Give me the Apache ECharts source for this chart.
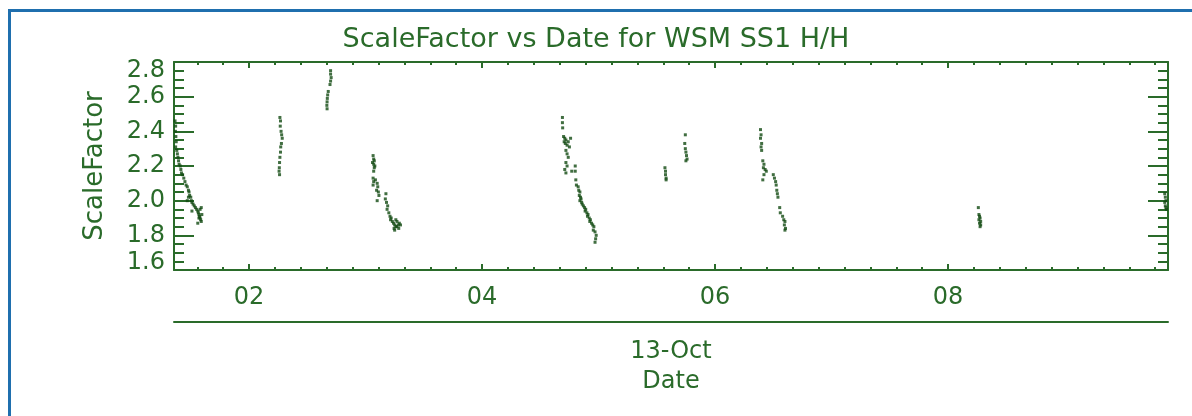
<!DOCTYPE html>
<html><head><meta charset="utf-8">
<script src="https://cdn.jsdelivr.net/npm/echarts@6/dist/echarts.min.js"></script>
<style>
html,body{margin:0;padding:0;background:#fff;}
#chart{position:absolute;left:0;top:0;width:1192px;height:416px;}
#frame{position:absolute;left:8px;top:9px;right:0;bottom:0;border-top:3px solid #1f6fae;border-left:3px solid #1f6fae;pointer-events:none;}
</style></head><body>
<div id="chart"></div><div id="frame"></div>
<script>
// ---- data: [hour of 13-Oct, ScaleFactor] ----
const pass1 = [[1.365,2.46],[1.37,2.43],[1.368,2.40],[1.372,2.37],[1.375,2.34],[1.37,2.31],[1.38,2.29],[1.385,2.27],[1.39,2.25],[1.395,2.23],[1.40,2.21],[1.41,2.20],[1.415,2.18],[1.42,2.16],[1.43,2.15],[1.44,2.13],[1.45,2.11],[1.46,2.09],[1.47,2.08],[1.48,2.06],[1.485,2.05],[1.49,2.03],[1.50,2.02],[1.505,2.00],[1.51,1.99],[1.52,1.98],[1.53,1.97],[1.54,1.96],[1.55,1.95],[1.56,1.94],[1.565,1.93],[1.57,1.92],[1.575,1.91],[1.58,1.90],[1.585,1.89],[1.59,1.88],[1.56,1.87],[1.57,1.90],[1.58,1.95],[1.59,1.96],[1.595,1.92],[1.48,2.02],[1.47,2.00],[1.51,1.94]];
const pass2 = [[2.265,2.48],[2.27,2.46],[2.268,2.43],[2.275,2.40],[2.28,2.38],[2.285,2.36],[2.278,2.33],[2.272,2.31],[2.27,2.28],[2.265,2.25],[2.262,2.22],[2.26,2.19],[2.258,2.17],[2.262,2.15]];
const pass3 = [[2.70,2.75],[2.70,2.73],[2.705,2.71],[2.70,2.69],[2.695,2.67],[2.68,2.63],[2.675,2.61],[2.672,2.59],[2.67,2.57],[2.668,2.55],[2.67,2.53]];
const pass4 = [[3.065,2.26],[3.07,2.24],[3.075,2.23],[3.06,2.22],[3.07,2.21],[3.08,2.20],[3.075,2.19],[3.07,2.17],[3.065,2.13],[3.07,2.11],[3.065,2.09],[3.085,2.12],[3.10,2.10],[3.105,2.08],[3.095,2.06],[3.11,2.05],[3.115,2.03],[3.10,2.00],[3.175,2.04],[3.17,2.01],[3.18,1.99],[3.19,1.97],[3.185,1.95],[3.20,1.93],[3.21,1.91],[3.22,1.90],[3.215,1.89],[3.23,1.88],[3.24,1.87],[3.25,1.86],[3.26,1.85],[3.245,1.84],[3.27,1.85],[3.28,1.86],[3.29,1.87],[3.30,1.86],[3.27,1.88],[3.26,1.89],[3.25,1.83],[3.285,1.84]];
const pass5 = [[4.69,2.48],[4.69,2.45],[4.692,2.42],[4.70,2.37],[4.71,2.36],[4.72,2.35],[4.705,2.34],[4.715,2.33],[4.73,2.32],[4.74,2.34],[4.76,2.36],[4.75,2.31],[4.72,2.29],[4.73,2.27],[4.74,2.25],[4.72,2.22],[4.73,2.20],[4.71,2.18],[4.72,2.16],[4.77,2.17],[4.80,2.20],[4.80,2.17],[4.805,2.12],[4.81,2.09],[4.825,2.08],[4.83,2.06],[4.84,2.05],[4.835,2.03],[4.845,2.02],[4.85,2.01],[4.84,2.00],[4.855,1.99],[4.86,1.98],[4.87,1.97],[4.88,1.96],[4.89,1.95],[4.885,1.94],[4.90,1.93],[4.91,1.92],[4.905,1.91],[4.92,1.90],[4.93,1.89],[4.925,1.88],[4.94,1.87],[4.95,1.86],[4.96,1.85],[4.955,1.83],[4.97,1.82],[4.98,1.80],[4.975,1.78],[4.97,1.76]];
const pass6 = [[5.57,2.19],[5.575,2.17],[5.575,2.15],[5.58,2.13],[5.58,2.12]];
const pass7 = [[5.745,2.38],[5.74,2.33],[5.745,2.30],[5.75,2.28],[5.755,2.26],[5.76,2.24],[5.75,2.23]];
const pass8 = [[6.39,2.41],[6.395,2.38],[6.39,2.36],[6.40,2.33],[6.395,2.31],[6.40,2.29],[6.41,2.23],[6.42,2.21],[6.415,2.19],[6.43,2.18],[6.44,2.17],[6.42,2.15],[6.41,2.12],[6.50,2.15],[6.51,2.13],[6.52,2.11],[6.525,2.09],[6.53,2.06],[6.535,2.04],[6.54,2.02],[6.555,1.96],[6.56,1.93],[6.58,1.91],[6.59,1.89],[6.60,1.88],[6.595,1.86],[6.605,1.84],[6.60,1.83]];
const pass9 = [[8.26,1.96],[8.265,1.92],[8.27,1.91],[8.275,1.90],[8.265,1.89],[8.28,1.88],[8.27,1.87],[8.28,1.86],[8.275,1.85]];
const pass10 = [[9.86,2.04],[9.865,2.02],[9.87,2.00],[9.86,1.99],[9.865,1.97],[9.87,1.96],[9.875,1.95]];

const xMajorHours = [2, 4, 6, 8];
const xMajorLabels = ['02', '04', '06', '08'];
const xMinorHours = [1.556,1.778,2.222,2.444,2.667,2.889,3.111,3.333,3.556,3.778,4.222,4.444,4.667,4.889,5.111,5.333,5.556,5.778,6.222,6.444,6.667,6.889,7.111,7.333,7.556,7.778,8.222,8.444,8.667,8.889,9.111,9.333,9.556,9.778];
const X_MIN = 1.356, X_MAX = 9.888;
const Y_MIN = 1.6, Y_MAX = 2.8, Y_STEP = 0.2;
const dateLabel = '13-Oct';

// ---- styling ----
const GREEN = '#2a6b2a';
const DOT = '#124a12';
const FONT = 'DejaVu Sans';

const allData = [].concat(pass1, pass2, pass3, pass4, pass5, pass6, pass7, pass8, pass9, pass10);

const lineS = {color: GREEN, width: 2};
const xBase = {
  type: 'value', min: X_MIN, max: X_MAX,
  splitLine: {show: false},
  axisLine: {show: true, onZero: false, lineStyle: lineS}
};
const majorTick = {show: true, inside: true, length: 6, customValues: xMajorHours, lineStyle: lineS};
const minorTickX = {show: true, inside: true, length: 3, customValues: xMinorHours, lineStyle: lineS};

const yBase = {
  type: 'value', min: Y_MIN, max: Y_MAX, interval: Y_STEP,
  splitLine: {show: false},
  axisLine: {show: true, onZero: false, lineStyle: lineS},
  axisTick: {show: true, inside: true, length: 20, lineStyle: lineS},
  minorTick: {show: true, splitNumber: 4, length: 10, lineStyle: lineS},
  minorSplitLine: {show: false}
};

function yLabel(v) {
  const s = v.toFixed(1);
  if (Math.abs(v - Y_MAX) < 1e-6) return '{hi|' + s + '}';
  if (Math.abs(v - Y_MIN) < 1e-6) return '{lo|' + s + '}';
  return s;
}
const yRichBase = {fontFamily: FONT, fontSize: 24, color: GREEN};

const chart = echarts.init(document.getElementById('chart'), null, {renderer: 'canvas'});
chart.setOption({
  animation: false,
  backgroundColor: '#fff',
  title: {
    text: 'ScaleFactor vs Date for WSM SS1 H/H',
    left: 'center', top: 21,
    textStyle: {fontFamily: FONT, fontSize: 27, fontWeight: 'normal', color: GREEN}
  },
  grid: {left: 174, right: 24, top: 62, bottom: 146, outerBoundsMode: 'none'},
  xAxis: [
    Object.assign({}, xBase, {
      position: 'bottom', axisTick: majorTick,
      axisLabel: {show: true, customValues: xMajorHours,
        formatter: v => xMajorLabels[xMajorHours.indexOf(Math.round(v))] || '',
        margin: 16, fontFamily: FONT, fontSize: 24, color: GREEN}
    }),
    Object.assign({}, xBase, {position: 'bottom', axisLine: {show: false}, axisTick: minorTickX, axisLabel: {show: false}}),
    Object.assign({}, xBase, {position: 'top', axisTick: majorTick, axisLabel: {show: false}}),
    Object.assign({}, xBase, {position: 'top', axisLine: {show: false}, axisTick: minorTickX, axisLabel: {show: false}}),
    Object.assign({}, xBase, {
      position: 'bottom', offset: 52,
      axisTick: {show: false}, axisLabel: {show: false},
      name: dateLabel + '\nDate', nameLocation: 'middle', nameGap: 15,
      nameTextStyle: {fontFamily: FONT, fontSize: 24, color: GREEN, lineHeight: 30}
    })
  ],
  yAxis: [
    Object.assign({}, yBase, {
      position: 'left',
      axisLabel: {show: true, formatter: yLabel, margin: 9,
        fontFamily: FONT, fontSize: 24, color: GREEN,
        showMinLabel: true, showMaxLabel: true, hideOverlap: false,
        rich: {
          hi: Object.assign({padding: [18, 0, 0, 0]}, yRichBase),
          lo: Object.assign({padding: [0, 0, 14, 0]}, yRichBase)
        }},
      name: 'ScaleFactor', nameLocation: 'middle', nameGap: 66, nameRotate: 90,
      nameTextStyle: {fontFamily: FONT, fontSize: 26, color: GREEN}
    }),
    Object.assign({}, yBase, {position: 'right', axisLabel: {show: false}})
  ],
  series: [{
    type: 'scatter', xAxisIndex: 0, yAxisIndex: 0,
    symbol: 'rect', symbolSize: 3,
    itemStyle: {color: DOT},
    data: allData, silent: true
  }]
});
</script></body></html>
